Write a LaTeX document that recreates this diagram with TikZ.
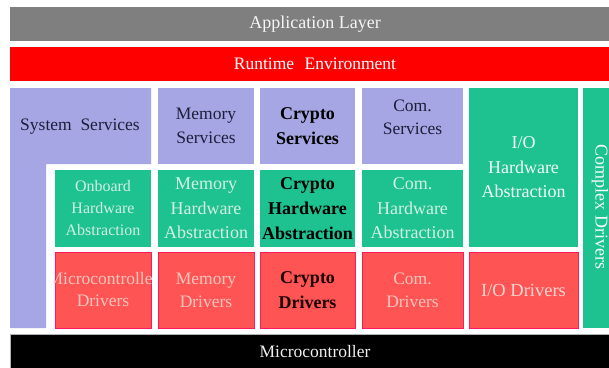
\documentclass[tikz,border=0pt]{standalone}
\usepackage{fontspec}
\setmainfont{Liberation Serif}
\definecolor{appgray}{HTML}{7F7F7F}
\definecolor{rtered}{HTML}{FF0000}
\definecolor{svcpurple}{HTML}{A6A6E4}
\definecolor{svctext}{HTML}{1E1E3C}
\definecolor{hwgreen}{HTML}{1EC290}
\definecolor{hwtext}{HTML}{D2F0E4}
\definecolor{drvred}{HTML}{FF5454}
\definecolor{drvedge}{HTML}{FF1A60}
\definecolor{drvtext}{HTML}{F8C6BE}
\tikzset{
  x=1pt, y=-1pt,
  bar/.style={rectangle, inner sep=0pt, minimum width=610pt, minimum height=34pt},
  cell/.style={rectangle, inner sep=0pt, align=center},
  svc/.style={cell, fill=svcpurple, text=svctext, font=\fontsize{17.5}{24}\selectfont},
  hw/.style={cell, fill=hwgreen, text=hwtext, font=\fontsize{18}{24.5}\selectfont},
  drv/.style={cell, fill=drvred, draw=drvedge, line width=0.9pt, text=drvtext, font=\fontsize{17.5}{23}\selectfont},
  boldtext/.style={text=black, font=\fontsize{18}{25}\selectfont\bfseries},
}
\begin{document}
\begin{tikzpicture}
\useasboundingbox (0,0) rectangle (609,367);
\fill[white] (0,0) rectangle (609,367);

% top layers
\node[bar, fill=appgray, text=white!92!gray, font=\fontsize{18}{22}\selectfont] (app) at (315,24) {Application Layer};
\node[bar, fill=rtered, text=white, font=\fontsize{17.5}{22}\selectfont] (rte) at (315,64) {Runtime\hspace{0.6em}Environment};

% system services (L-shaped block)
\fill[svcpurple] (10,88) -- (151,88) -- (151,164) -- (46,164) -- (46,328) -- (10,328) -- cycle;
\node[cell, text=svctext, font=\fontsize{17.5}{24}\selectfont] (syssrv) at (80,127) {System\hspace{0.5em}Services};

% service layer
\node[svc, minimum width=96pt, minimum height=76pt] (memsrv) at (206,126) {Memory\\Services};
\node[svc, boldtext, minimum width=95pt, minimum height=76pt] (cryptosrv) at (307.5,126) {Crypto\\Services};
\node[svc, minimum width=101pt, minimum height=76pt] (comsrv) at (412.5,126) {};
\node[cell, text=svctext, font=\fontsize{17.5}{23}\selectfont] (comsrvtext) at ([yshift=9pt]comsrv.center) {Com.\\Services};

% hardware abstraction layer
\node[hw, minimum width=96pt, minimum height=77pt, font=\fontsize{16}{22}\selectfont] (onboard) at (103,208.5) {Onboard\\Hardware\\Abstraction};
\node[hw, minimum width=96pt, minimum height=77pt] (memhw) at (206,208.5) {Memory\\Hardware\\Abstraction};
\node[hw, boldtext, minimum width=95pt, minimum height=77pt] (cryptohw) at (307.5,208.5) {Crypto\\Hardware\\Abstraction};
\node[hw, minimum width=101pt, minimum height=77pt] (comhw) at (412.5,208.5) {Com.\\Hardware\\Abstraction};
\node[hw, text=white!94!hwgreen, minimum width=109pt, minimum height=159pt] (iohw) at (523.5,167.5) {I/O\\Hardware\\Abstraction};
\node[hw, minimum width=32pt, minimum height=240pt] (cdrv) at (599,208) {};
\node[cell, rotate=-90, text=white!94!hwgreen, font=\fontsize{18}{22}\selectfont] (cdrvtext) at (600,207) {Complex Drivers};

% driver layer
\node[drv, minimum width=96pt, minimum height=76pt] (mcdrv) at (103,290) {};
\begin{scope}
  \clip (mcdrv.south west) rectangle (mcdrv.north east);
  \node[cell, text=drvtext, font=\fontsize{17.5}{22}\selectfont] (mcdrvtext) at (103,290) {Microcontroller\\Drivers};
\end{scope}
\node[drv, minimum width=96pt, minimum height=76pt] (memdrv) at (206,290) {Memory\\Drivers};
\node[drv, boldtext, text=black!90!red, minimum width=95pt, minimum height=76pt] (cryptodrv) at (307.5,290) {Crypto\\Drivers};
\node[drv, minimum width=101pt, minimum height=76pt] (comdrv) at (412.5,290) {Com.\\Drivers};
\node[drv, text=drvtext!70!white, font=\fontsize{18.5}{23}\selectfont, minimum width=109pt, minimum height=76pt] (iodrv) at (523.5,290) {I/O Drivers};

% microcontroller base
\node[bar, fill=black, draw=gray!60, line width=0.6pt, text=white!94!black, minimum height=36pt, font=\fontsize{17.5}{22}\selectfont] (mcu) at (315,352) {Microcontroller};
\end{tikzpicture}
\end{document}
